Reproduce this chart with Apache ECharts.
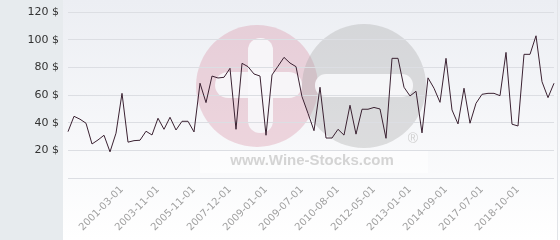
<!DOCTYPE html>
<html>
<head>
<meta charset="utf-8">
<script src="https://cdn.jsdelivr.net/npm/echarts@6/dist/echarts.min.js"></script>
<style>
html,body{margin:0;padding:0;background:#fff;}
#chart{width:560px;height:240px;}
</style>
</head>
<body>
<div id="chart"></div>
<script>
// Category labels: only the labelled dates are readable in the reference; others unlabeled
const categories = [
  '', '', '', '', '', '', '', '', '', '2001-03-01',
  '', '', '', '', '', '2003-11-01', '', '', '', '',
  '', '2005-11-01', '', '', '', '', '', '2007-12-01', '', '',
  '', '', '', '2009-01-01', '', '', '', '', '', '2009-07-01',
  '', '', '', '', '', '2010-08-01', '', '', '', '',
  '', '2012-05-01', '', '', '', '', '', '2013-01-01', '', '',
  '', '', '', '2014-09-01', '', '', '', '', '', '2017-07-01',
  '', '', '', '', '', '2018-10-01', '', '', '', '',
  '', ''
];
const prices = [
  33.5, 44.6, 42.5, 39.6, 24.6, 27.5, 30.9, 18.9, 32.4, 61.2,
  25.9, 27.0, 27.3, 33.8, 31.1, 43.2, 35.2, 43.9, 34.7, 41.0,
  41.0, 33.3, 68.5, 54.5, 73.7, 72.3, 72.8, 79.3, 35.2, 82.9,
  80.5, 75.2, 73.7, 30.9, 74.5, 80.8, 87.2, 83.1, 80.5, 58.8,
  46.7, 34.2, 65.6, 28.9, 28.9, 35.2, 31.0, 52.6, 31.7, 49.7,
  49.7, 51.0, 49.9, 28.7, 86.5, 86.5, 65.6, 59.3, 62.7, 32.6,
  72.4, 64.9, 54.7, 86.5, 49.2, 39.1, 64.9, 39.6, 54.0, 60.5,
  61.2, 61.2, 59.5, 90.8, 38.9, 37.6, 89.4, 89.4, 102.8, 69.6,
  58.1, 68.5
];
const yTicks = { min: 0, max: 120, interval: 20, unit: ' $' };
const watermarkText = 'www.Wine-Stocks.com';

const chart = echarts.init(document.getElementById('chart'), null, {renderer: 'canvas'});
chart.setOption({
  animation: false,
  backgroundColor: '#ffffff',
  grid: { left: 68, right: 6, top: 12, bottom: 62, containLabel: false },
  graphic: [
    { type: 'rect', z: -10, shape: { x: 0, y: 0, width: 63, height: 240 }, style: { fill: '#e7ebee' } },
    { type: 'rect', z: -10, shape: { x: 63, y: 0, width: 497, height: 240 },
      style: { fill: new echarts.graphic.LinearGradient(0, 0, 0, 1, [
        { offset: 0, color: '#eceef3' }, { offset: 1, color: '#ffffff' }]) } },
    { type: 'line', z: -9, shape: { x1: 557.5, y1: 0, x2: 557.5, y2: 240 }, style: { stroke: '#e2e4e8', lineWidth: 1 } },
    { type: 'rect', z: -8, shape: { x: 200, y: 151, width: 228, height: 22 }, style: { fill: 'rgba(255,255,255,0.5)' } },
    { type: 'circle', z: -7, shape: { cx: 257, cy: 86, r: 61 }, style: { fill: 'rgba(215,140,162,0.33)' } },
    { type: 'rect', z: -6, shape: { x: 248, y: 38, width: 25, height: 95, r: 12 }, style: { fill: 'rgba(248,248,251,0.9)' } },
    { type: 'rect', z: -6, shape: { x: 215, y: 72, width: 87, height: 26, r: 13 }, style: { fill: 'rgba(248,248,251,0.9)' } },
    { type: 'circle', z: -5, shape: { cx: 364, cy: 86, r: 62 }, style: { fill: 'rgba(165,165,165,0.33)' } },
    { type: 'rect', z: -4, shape: { x: 315, y: 74, width: 98, height: 23, r: 11 }, style: { fill: 'rgba(248,248,251,0.9)' } },
    { type: 'text', z: -4, x: 312, y: 161, style: { text: watermarkText, fill: '#d4d4d4',
      font: 'bold 15px "Liberation Sans", Arial, sans-serif', align: 'center', verticalAlign: 'middle' } },
    { type: 'text', z: -4, x: 413, y: 139, style: { text: '®', fill: '#d0d0d0',
      font: '14px "Liberation Sans", Arial, sans-serif', align: 'center', verticalAlign: 'middle' } }
  ],
  xAxis: {
    type: 'category',
    data: categories,
    boundaryGap: false,
    axisLine: { show: false },
    axisTick: { show: false },
    splitLine: { show: false },
    axisLabel: {
      interval: 0,
      rotate: 45,
      margin: 10,
      color: '#a0a0a0',
      fontSize: 10,
      fontFamily: '"DejaVu Sans", sans-serif'
    }
  },
  yAxis: {
    type: 'value',
    min: yTicks.min,
    max: yTicks.max,
    interval: yTicks.interval,
    axisLine: { show: false },
    axisTick: { show: false },
    splitLine: { lineStyle: { color: '#dcdee3', width: 1 } },
    axisLabel: {
      margin: 9,
      color: '#333333',
      fontSize: 11,
      fontFamily: '"DejaVu Sans", sans-serif',
      formatter: function (v) { return v === 0 ? '' : v + yTicks.unit; }
    }
  },
  series: [{
    type: 'line',
    data: prices,
    symbol: 'none',
    lineStyle: { color: '#3b2232', width: 1 },
    z: 5
  }]
});
</script>
</body>
</html>
